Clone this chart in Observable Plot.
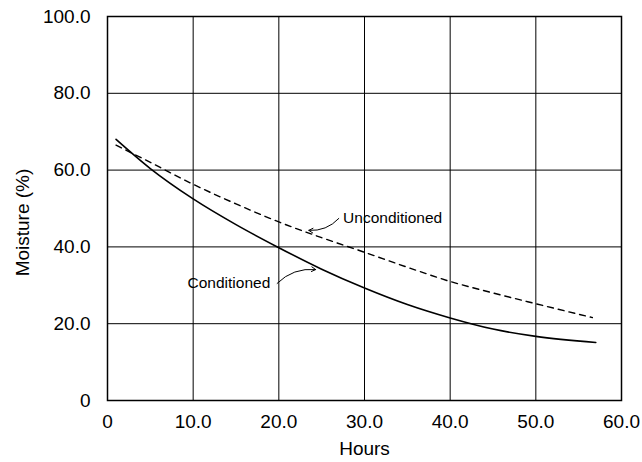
<!DOCTYPE html>
<html>
<head>
<meta charset="utf-8">
<script src="https://cdn.jsdelivr.net/npm/d3@7"></script>
<script src="https://cdn.jsdelivr.net/npm/@observablehq/plot@0.6"></script>
<style>
  html, body { margin: 0; padding: 0; background: #fff; }
  #chart { width: 642px; height: 462px; }
</style>
</head>
<body>
<div id="chart"></div>
<script>
// Data
const condHours = [1, 5, 10, 15, 20, 25, 30, 35, 40, 45, 50, 57];
const condMoisture = [68, 60.4, 52.5, 45.8, 39.8, 34.2, 29.3, 25, 21.5, 18.6, 16.7, 15.1];
const uncondHours = [1, 5, 10, 15, 20, 25, 30, 35, 40, 45, 50, 56.6];
const uncondMoisture = [66.5, 62, 56.3, 51.2, 46.5, 42.4, 38.6, 34.7, 31, 28, 25.2, 21.6];

const xTicks = [0, 10, 20, 30, 40, 50, 60];
const yTicks = [0, 20, 40, 60, 80, 100];
const fmt = d => d === 0 ? "0" : d.toFixed(1);

// Annotation labels (text anchor point, arrow start, arrow end)
const annLabels = ["Unconditioned", "Conditioned"];
const annTextX = [27.5, 19.0];
const annTextY = [47.4, 30.5];
const annAnchor = ["start", "end"];
const arrowX1 = [27.0, 19.8];
const arrowY1 = [47.4, 30.5];
const arrowX2 = [23.5, 24.3];
const arrowY2 = [44.3, 34.1];

const cond = condHours.map((h, i) => ({h, m: condMoisture[i]}));
const uncond = uncondHours.map((h, i) => ({h, m: uncondMoisture[i]}));
const ann = annLabels.map((t, i) => ({t, x: annTextX[i], y: annTextY[i], a: annAnchor[i],
  x1: arrowX1[i], y1: arrowY1[i], x2: arrowX2[i], y2: arrowY2[i]}));

const chart = Plot.plot({
  width: 642,
  height: 462,
  marginLeft: 107,
  marginRight: 21,
  marginTop: 16,
  marginBottom: 62,
  style: {fontFamily: "'Liberation Sans', Arial, sans-serif", fontSize: "19px", color: "black", background: "white"},
  x: {domain: [0, 60], ticks: xTicks, tickFormat: fmt, label: null, tickSize: 0, tickPadding: 14},
  y: {domain: [0, 100], ticks: yTicks, tickFormat: fmt, label: null, tickSize: 0, tickPadding: 17},
  marks: [
    Plot.gridX(xTicks, {stroke: "black", strokeOpacity: 1, strokeWidth: 1}),
    Plot.gridY(yTicks, {stroke: "black", strokeOpacity: 1, strokeWidth: 1}),
    Plot.frame({stroke: "black", strokeWidth: 1.5}),
    Plot.line(cond, {x: "h", y: "m", curve: "monotone-x", stroke: "black", strokeWidth: 1.6}),
    Plot.line(uncond, {x: "h", y: "m", curve: "monotone-x", stroke: "black", strokeWidth: 1.4, strokeDasharray: "6,5"}),
    Plot.arrow(ann, {x1: "x1", y1: "y1", x2: "x2", y2: "y2", bend: 25, stroke: "black", strokeWidth: 1, headLength: 7}),
    Plot.text(ann.filter(d => d.a === "start"), {x: "x", y: "y", text: "t", textAnchor: "start", fontSize: 15.5, fill: "black"}),
    Plot.text(ann.filter(d => d.a === "end"), {x: "x", y: "y", text: "t", textAnchor: "end", fontSize: 15.5, fill: "black"}),
    Plot.text(["Hours"], {frameAnchor: "bottom", dy: 54, text: d => d, fontSize: 19, fill: "black"}),
    Plot.text(["Moisture (%)"], {frameAnchor: "left", textAnchor: "middle", dx: -85, dy: 14, rotate: -90, text: d => d, fontSize: 19, fill: "black"})
  ]
});
document.getElementById("chart").appendChild(chart);
</script>
</body>
</html>
